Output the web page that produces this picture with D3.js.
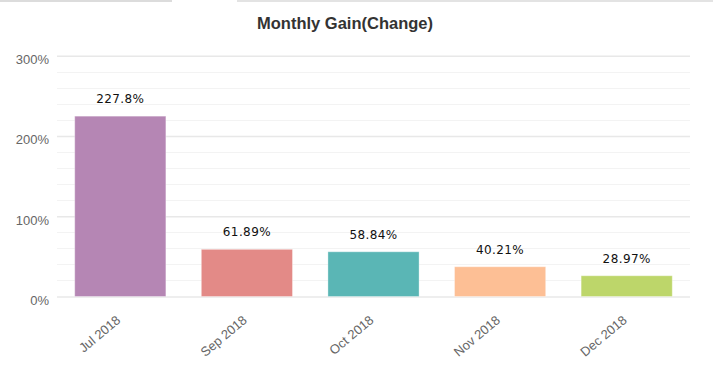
<!DOCTYPE html>
<html>
<head>
<meta charset="utf-8">
<script src="https://cdn.jsdelivr.net/npm/d3@7"></script>
<style>
  html, body { margin: 0; padding: 0; background: #fff; }
  svg { display: block; }
</style>
</head>
<body>
<svg id="chart" width="713" height="380"></svg>
<script>
const categories = ["Jul 2018", "Sep 2018", "Oct 2018", "Nov 2018", "Dec 2018"];
const values = [227.8, 61.89, 58.84, 40.21, 28.97];
const valueLabels = ["227.8%", "61.89%", "58.84%", "40.21%", "28.97%"];
const barColors = ["#b586b4", "#e38a87", "#5ab6b5", "#fdbf95", "#bdd66a"];
const yTicks = [0, 100, 200, 300];
const yMinorTicks = [20, 40, 60, 80, 120, 140, 160, 180, 220, 240, 260, 280];
const title = "Monthly Gain(Change)";

(function () {
const svg = d3.select("#chart");

// top tab border
svg.append("rect").attr("x", 0).attr("y", 0).attr("width", 172).attr("height", 2).attr("fill", "#dcdcdc");
svg.append("rect").attr("x", 237).attr("y", 0).attr("width", 476).attr("height", 2).attr("fill", "#e3e3e3");

const pLeft = 57, pRight = 690, pTop = 55.7, pBottom = 296.5;

const x = d3.scaleBand().domain(categories).range([pLeft, pRight]).paddingInner(0.28).paddingOuter(0.14);
const y = d3.scaleLinear().domain([0, 300]).range([pBottom, pTop]);
const barShift = 2.5;

// minor grid
svg.append("g").selectAll("line").data(yMinorTicks).join("line")
  .attr("x1", pLeft).attr("x2", pRight)
  .attr("y1", d => Math.round(y(d)) + 0.5).attr("y2", d => Math.round(y(d)) + 0.5)
  .attr("stroke", "#f3f3f3").attr("stroke-width", 1);

// major grid + labels via axis
const yAxis = d3.axisLeft(y).tickValues(yTicks).tickFormat(d => d + "%").tickSize(-(pRight - pLeft)).tickPadding(8);
const gy = svg.append("g").attr("transform", `translate(${pLeft},0)`).call(yAxis);
gy.select(".domain").remove();
gy.selectAll(".tick line").attr("stroke", "#e8e8e8").attr("stroke-width", 1.5);
gy.selectAll(".tick text")
  .attr("fill", "#666").attr("font-family", "'Liberation Sans', Arial, sans-serif")
  .attr("font-size", 13).attr("dy", "0.6em");

// bars
svg.append("g").selectAll("rect").data(values).join("rect")
  .attr("x", (d, i) => x(categories[i]))
  .attr("width", x.bandwidth())
  .attr("y", d => y(d) + barShift)
  .attr("height", d => pBottom - y(d) - barShift)
  .attr("fill", (d, i) => barColors[i])
  .attr("stroke", "rgba(255,255,255,0.35)").attr("stroke-width", 1);

// value labels
svg.append("g").selectAll("text").data(values).join("text")
  .attr("x", (d, i) => x(categories[i]) + x.bandwidth() / 2)
  .attr("y", d => y(d) + barShift - 13)
  .attr("text-anchor", "middle")
  .attr("font-family", "'DejaVu Sans', sans-serif")
  .attr("font-size", 12)
  .attr("letter-spacing", 0.4)
  .attr("fill", "#111")
  .text((d, i) => valueLabels[i]);

// x axis labels
const xAxis = d3.axisBottom(x).tickSize(0).tickPadding(0);
const gx = svg.append("g").attr("transform", `translate(0,${pBottom})`).call(xAxis);
gx.select(".domain").remove();
gx.selectAll(".tick text")
  .attr("text-anchor", "end")
  .attr("font-family", "'Liberation Sans', Arial, sans-serif")
  .attr("font-size", 13)
  .attr("fill", "#666")
  .attr("dy", null)
  .attr("y", null)
  .attr("transform", "translate(1,25) rotate(-40)");

// title
svg.append("text")
  .attr("x", 345).attr("y", 29)
  .attr("text-anchor", "middle")
  .attr("font-family", "'Liberation Sans', Arial, sans-serif")
  .attr("font-weight", "bold")
  .attr("font-size", 16.5)
  .attr("fill", "#333")
  .text(title);
})();
</script>
</body>
</html>
